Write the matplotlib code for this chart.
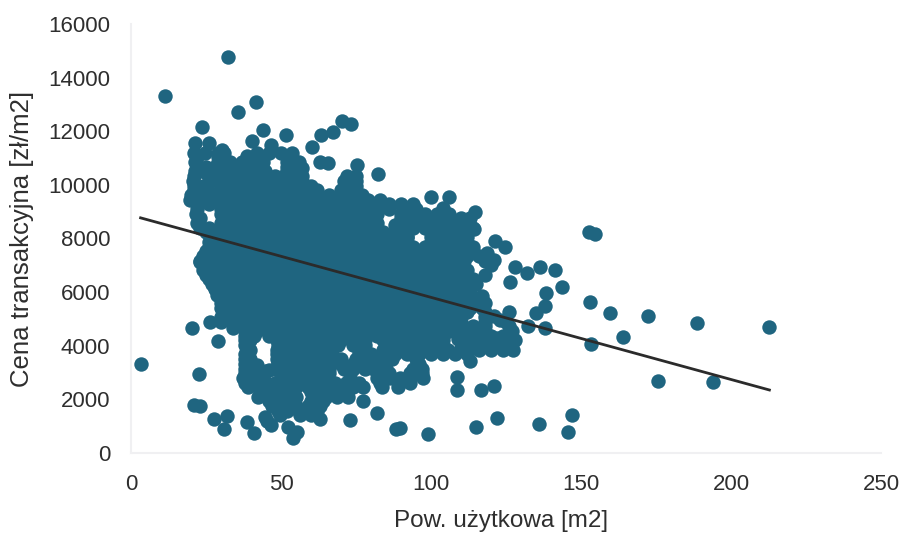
import matplotlib
matplotlib.use('Agg')
import matplotlib.pyplot as plt

plt.rcParams['font.family'] = ['Liberation Sans', 'DejaVu Sans']

# Dense cloud (price level -> areas seen there)
band_prices = [11550, 11200, 10850, 10500, 10150, 9800, 9450, 9100, 8750, 8400,
               8050, 7700, 7350, 7000, 6650, 6300, 5950, 5600, 5250, 4900,
               4550, 4200, 3850, 3500, 3150, 2800, 2450, 2100, 1750, 1400]
band_areas = [
    [21.3, 26],
    [21, 24.8, 29, 31, 42, 46, 50],
    [21.2, 29, 33, 37, 41, 44, 52, 56],
    [21.4, 25.3, 29.2, 33.1, 37, 41, 44.6, 52, 55],
    [20.8, 29.2, 33, 37, 41, 45, 49, 53, 57, 71, 75],
    [21, 23, 30, 34, 38, 42, 46, 50, 54, 58, 62, 70, 74],
    [19.6, 24, 28, 32, 36, 40, 44, 48, 52, 56, 60, 64, 68, 72, 76, 79, 83],
    [22, 30, 34, 38, 42, 46, 50, 54, 58, 62, 66, 70, 74, 78, 82, 86, 90.7, 95],
    [23, 32, 36, 40, 44, 48, 52, 56, 60, 64, 68, 72, 76, 80, 90, 94, 98, 102, 106, 110, 113],
    [23, 26, 30, 34, 38, 42, 46, 50, 54, 58, 62, 66, 70, 74, 78, 82, 90, 94, 98, 102, 106, 110, 114],
    [28, 32, 36, 40, 44, 48, 52, 56, 60, 64, 68, 72, 76, 80, 84, 88, 92, 100, 104, 108, 112],
    [26, 30, 34, 38, 42, 46, 50, 54, 58, 62, 66, 70, 74, 78, 82, 86, 90, 94, 98, 102, 106, 110, 114],
    [24, 28, 32, 36, 40, 44, 48, 52, 56, 60, 64, 68, 72, 76, 80, 84, 88, 92, 96, 100, 104, 108, 112, 116],
    [26, 30, 34, 38, 42, 46, 50, 54, 58, 62, 66, 70, 74, 78, 82, 86, 90, 94, 98, 102, 106, 110, 120],
    [25, 29, 33, 37, 41, 45, 49, 53, 57, 61, 65, 69, 73, 77, 81, 85, 89, 93, 97, 101, 105, 109, 118],
    [27, 31, 35, 39, 43, 47, 51, 55, 59, 63, 67, 71, 75, 79, 83, 87, 91, 95, 99, 103, 107, 111, 115],
    [29, 33, 37, 41, 45, 49, 53, 57, 61, 65, 69, 73, 77, 81, 85, 89, 93, 97, 101, 105, 109, 113],
    [30, 34, 38, 42, 46, 50, 54, 58, 62, 66, 70, 74, 78, 82, 86, 90, 94, 98, 102, 106, 110, 114, 118],
    [32, 36, 40, 44, 48, 52, 56, 60, 64, 68, 72, 76, 80, 84, 88, 92, 96, 100, 104, 108, 112, 118],
    [26.3, 30, 34, 38, 46, 50, 54, 58, 62, 66, 70, 74, 78, 82, 86, 90, 94, 98, 102, 106, 110, 118, 125],
    [38, 42, 46, 50, 54, 58, 62, 66, 70, 74, 78, 82, 86, 90, 94, 98, 102, 106, 110, 114, 118, 127],
    [38, 39.7, 48.6, 52, 54, 58, 62, 66, 70, 74, 78, 84, 88, 92, 96, 100, 104, 112, 116, 120, 124, 128],
    [38.5, 39.7, 48.6, 50, 54, 58, 62, 66, 76, 84, 88, 92, 96, 100, 104, 112, 116, 120, 124, 127.4],
    [38, 39.7, 48.6, 52, 56, 60, 64, 67, 75, 78, 84, 87, 95],
    [38, 42, 50, 54, 58, 62, 66, 74, 78, 81, 85, 94, 97],
    [37.4, 41, 44, 50, 54, 58, 62, 65, 73, 82, 86, 89.7, 93, 97.2],
    [39, 43, 47, 51, 55, 59, 63, 67, 71, 74, 77.4, 83.6, 89],
    [42.4, 47, 51, 55, 61, 65, 68.6, 72.3],
    [47, 51, 55, 59, 63],
    [49.7, 56.3, 60],
]

# Second pass through the same cloud, levels between the ones above
mid_prices = [11025, 10675, 10325, 9975, 9625, 9275, 8925, 8575, 8225, 7875, 7525, 7175,
              6825, 6475, 6125, 5775, 5425, 5075, 4725, 4375, 4025, 3675, 3325, 2975,
              2625, 2275, 1925, 1575]
mid_areas = [
    [22, 29],
    [22, 25, 28, 31, 34, 37, 40, 43, 52, 55],
    [21, 27, 30, 33, 36, 39, 42, 45, 48, 51, 54, 57, 72, 75],
    [21, 24, 30, 33, 36, 39, 42, 45, 48, 51, 54, 57, 60, 72, 75],
    [20, 23, 27, 30, 34, 38, 42, 46, 50, 54, 58, 62, 66, 70, 74, 77],
    [22, 26, 30, 34, 38, 42, 46, 50, 54, 58, 62, 66, 70, 74, 78, 82, 86, 90, 94],
    [21.5, 30, 34, 38, 42, 46, 50, 54, 58, 62, 66, 70, 74, 78, 82, 90, 94, 98, 102, 106],
    [22, 30, 34, 38, 42, 46, 50, 54, 58, 62, 66, 70, 74, 78, 82, 92, 96, 100, 104, 108, 112],
    [25, 28, 32, 36, 40, 44, 48, 52, 56, 60, 64, 68, 72, 76, 80, 84, 88, 92, 100, 104, 108, 112],
    [26, 30, 34, 38, 42, 46, 50, 54, 58, 62, 66, 70, 74, 78, 82, 86, 90, 92, 100, 104, 108, 112],
    [25, 28, 32, 36, 40, 44, 48, 52, 56, 60, 64, 68, 72, 76, 80, 84, 88, 92, 96, 100, 104, 108, 112],
    [23, 27, 31, 35, 39, 43, 47, 51, 55, 59, 63, 67, 71, 75, 79, 83, 87, 91, 95, 99, 103, 107, 111, 118],
    [24, 28, 32, 36, 40, 44, 48, 52, 56, 60, 64, 68, 72, 76, 80, 84, 88, 92, 96, 100, 104, 108, 112],
    [26, 30, 34, 38, 42, 46, 50, 54, 58, 62, 66, 70, 74, 78, 82, 86, 90, 94, 98, 102, 106, 110, 114],
    [28, 32, 36, 40, 44, 48, 52, 56, 60, 64, 68, 72, 76, 80, 84, 88, 92, 96, 100, 104, 108, 112],
    [30, 34, 38, 42, 46, 50, 54, 58, 62, 66, 70, 74, 78, 82, 86, 90, 94, 98, 102, 106, 110, 114, 116],
    [30, 33, 37, 41, 45, 49, 53, 57, 61, 65, 69, 73, 77, 81, 85, 89, 93, 97, 101, 105, 109, 113, 117],
    [30, 34, 38, 46, 50, 54, 58, 62, 66, 70, 74, 78, 82, 86, 90, 94, 98, 102, 106, 110, 118],
    [38, 42, 46, 50, 54, 58, 62, 66, 70, 74, 78, 82, 86, 90, 94, 98, 102, 106, 110, 114, 118, 126],
    [38, 41, 46, 50, 54, 58, 62, 66, 70, 74, 78, 82, 86, 90, 94, 98, 102, 104, 112, 116, 120, 124],
    [38, 49, 53, 57, 61, 65, 69, 74, 78, 86, 90, 94, 98, 102, 104, 112, 116, 120, 124],
    [38, 48.6, 52, 56, 60, 64, 67, 76, 84, 88, 92, 96, 100, 104, 108, 112],
    [38, 50, 54, 58, 62, 66, 74, 78, 84, 96],
    [38, 42, 50, 54, 58, 62, 66, 73, 82, 86, 93, 97],
    [38, 42, 45, 48, 52, 56, 60, 64, 68, 72, 76, 83, 89, 93],
    [43, 47, 51, 54, 60, 64, 68, 72],
    [46, 50, 54, 60, 64],
    [49, 52, 56, 59, 62],
]

# Points that close up the cloud where the passes above left it too open
fill_area = [25.5, 26, 27, 27.5, 28, 28.5, 25, 26.5, 42, 46, 48, 49, 42, 45,
             70, 71, 70, 71.5, 81, 80, 81.5, 105.5, 110, 109, 34, 38, 41.5, 43,
             117, 121, 123, 92, 88, 104, 100, 118, 122]
fill_price = [9800, 10100, 8150, 7800, 6150, 5900, 10450, 6900, 4850, 3100, 3150, 3400, 3300, 3050,
              3500, 3150, 3325, 2600, 3500, 3675, 3300, 3850, 3900, 4250, 4650, 4750, 4750, 5150,
              5850, 5100, 4950, 8050, 8500, 7975, 8225, 4250, 4300]

# Points that stand clear of the cloud
edge_area = [32.3, 11.3, 3.2, 23.7, 35.6, 41.8, 44, 51.6, 40.2, 46.5, 60.3, 63.3, 67.3, 70.2, 73.3,
             82.2, 75.2, 63, 65.7, 38.6, 30.2, 53.6, 56.9,
             100, 106, 103.9, 114.8, 114.4, 121.3, 124.8, 118.8, 120.9, 128, 132, 136.3, 141.4,
             126.4, 143.6, 138.4, 138, 135, 126, 138, 132.4, 152.9, 159.7, 172.4, 188.8, 212.6,
             163.9, 153.2, 175.6, 193.9, 152.8, 154.7,
             108.8, 108.6, 116.7, 120.9, 122, 115, 99, 136.1, 146.9, 145.6, 89.7, 113,
             20.2, 28.9, 22.6, 21, 23, 27.6, 31.9, 31, 38.6, 41, 44.7, 45.2, 46.6,
             52.4, 54.1, 55.2, 63, 73, 81.9, 88.3, 77.2, 23, 26.3]
edge_price = [14780, 13320, 3320, 12160, 12700, 13090, 12050, 11860, 11650, 11490, 11420, 11860, 11990, 12400, 12270,
              10420, 10740, 10870, 10820, 11060, 11300, 11190, 10630,
              9550, 9550, 9150, 8970, 8340, 7920, 7680, 7450, 7200, 6930, 6730, 6930, 6830,
              6370, 6190, 5970, 5480, 5220, 5270, 4660, 4740, 5630, 5220, 5120, 4850, 4710,
              4340, 4070, 2690, 2650, 8250, 8160,
              2820, 2350, 2350, 2510, 1320, 980, 720, 1080, 1420, 800, 930, 3440,
              4660, 4190, 2950, 1790, 1750, 1270, 1390, 895, 1170, 760, 1350, 1180, 1040,
              980, 560, 800, 1270, 1230, 1490, 895, 1950, 7140, 6530]

trend_area = [3.2, 212.8]
trend_price = [8770, 2350]

x_ticks = [0, 50, 100, 150, 200, 250]
y_ticks = [0, 2000, 4000, 6000, 8000, 10000, 12000, 14000, 16000]

area = [a for areas in band_areas + mid_areas for a in areas] + fill_area + edge_area
price = ([p for areas, p in zip(band_areas, band_prices) for a in areas]
         + [p for areas, p in zip(mid_areas, mid_prices) for a in areas] + fill_price + edge_price)

fig = plt.figure(figsize=(9.01, 5.33), dpi=100)
ax = fig.add_axes([131 / 901, 80 / 533, 750 / 901, 429 / 533])

ax.scatter(area, price, s=108, color='#1f6580', linewidths=0, clip_on=False, zorder=3)
ax.plot(trend_area, trend_price, color='#2b2b2b', lw=2, zorder=4)

ax.set_xlim(0, 250)
ax.set_ylim(0, 16000)
ax.set_xticks(x_ticks)
ax.set_yticks(y_ticks)
ax.tick_params(length=0, labelsize=16, labelcolor='#2e2e2e')
ax.tick_params(axis='x', pad=15)
ax.tick_params(axis='y', pad=15)

for side in ['top', 'right']:
    ax.spines[side].set_visible(False)
for side in ['left', 'bottom']:
    ax.spines[side].set_color('#f0f0f2')
    ax.spines[side].set_linewidth(1.5)

fig.text(501 / 901, 12 / 533, 'Pow. użytkowa [m2]', fontsize=17.5, color='#2e2e2e', ha='center', va='center')
fig.text(22 / 901, (533 - 239) / 533, 'Cena transakcyjna [zł/m2]', fontsize=18.5, color='#2e2e2e',
         rotation=90, ha='center', va='center')

fig.savefig('out.png', dpi=100)
